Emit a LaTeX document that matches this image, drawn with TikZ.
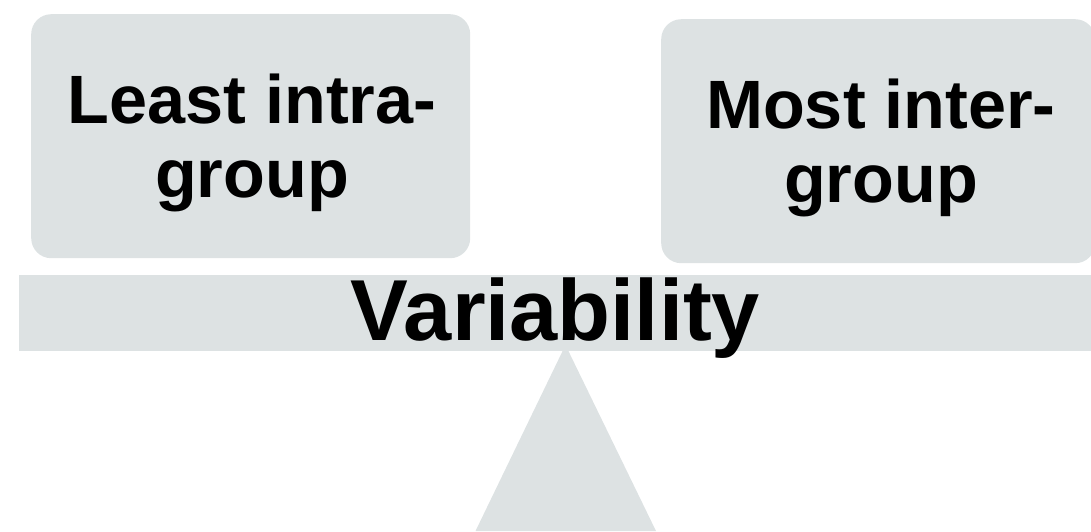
\documentclass[tikz,border=0pt]{standalone}
\usepackage{fontspec}
\setmainfont{Liberation Sans}
\definecolor{panel}{RGB}{221,226,227}
\begin{document}
\begin{tikzpicture}[x=1pt,y=-1pt,
  panelbox/.style={fill=panel,draw=none,rounded corners=20pt,inner sep=0pt,anchor=north west},
  lbl/.style={font=\bfseries\fontsize{68.4}{74}\selectfont,anchor=base,inner sep=0pt},
  biglbl/.style={font=\bfseries\fontsize{86.6}{90}\selectfont,anchor=base,inner sep=0pt}]
\useasboundingbox (0,0) rectangle (1091,531);
% support triangle (behind bar)
\fill[panel] (475.5,531) -- (565.5,345) -- (656,531) -- cycle;
% beam
\node[fill=panel,inner sep=0pt,minimum width=1080pt,minimum height=76pt,anchor=north west] (beam) at (19,275) {};
% boxes
\node[panelbox,minimum width=439pt,minimum height=244pt] (lbox) at (31,14) {};
\node[panelbox,minimum width=434pt,minimum height=244pt] (rbox) at (661,19) {};
% texts
\node[lbl] (l1) at (252,123) {Least intra-};
\node[lbl] (l2) at (252,197) {group};
\node[lbl] (r1) at (881,128) {Most inter-};
\node[lbl] (r2) at (881,202) {group};
\node[biglbl] (var) at (555.5,340) {Variability};
\end{tikzpicture}
\end{document}
